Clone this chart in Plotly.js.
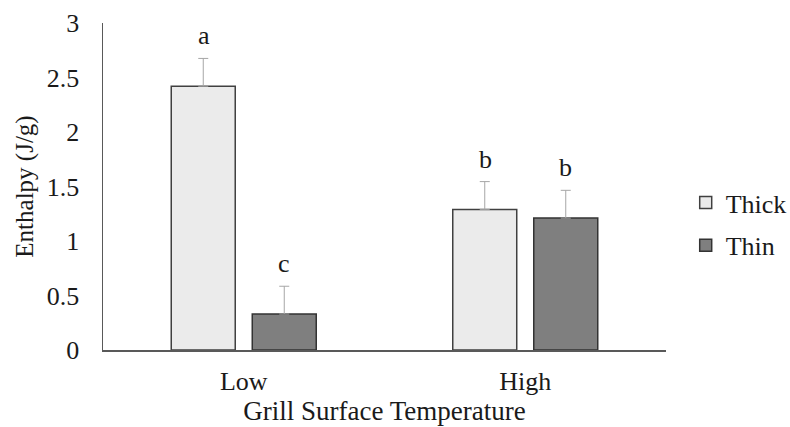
<!DOCTYPE html>
<html>
<head>
<meta charset="utf-8">
<script src="https://cdn.plot.ly/plotly-3.0.1.min.js"></script>
<style>html,body{margin:0;padding:0;background:#fff;}#chart{width:790px;height:427px;}</style>
</head>
<body>
<div id="chart"></div>
<script>
const categories = ["Low", "High"];
const seriesNames = ["Thick", "Thin"];
const thickValues = [2.42, 1.29];
const thinValues = [0.33, 1.21];
const thickErrors = [0.255, 0.255];
const thinErrors = [0.255, 0.255];
const thickLetters = ["a", "b"];
const thinLetters = ["c", "b"];

const FONT = "Liberation Serif";
const TXT = "#1a1a1a";

const traces = [
  {
    type: "bar", name: seriesNames[0], x: categories, y: thickValues,
    marker: {color: "#ebebeb", line: {color: "#404040", width: 1.5}},
    error_y: {type: "data", array: thickErrors, visible: true, color: "#a6a6a6", thickness: 1, width: 5, symmetric: false, arrayminus: [0, 0]},
    legendgroup: "g1"
  },
  {
    type: "bar", name: seriesNames[1], x: categories, y: thinValues,
    marker: {color: "#7f7f7f", line: {color: "#333333", width: 1.5}},
    error_y: {type: "data", array: thinErrors, visible: true, color: "#a6a6a6", thickness: 1, width: 5, symmetric: false, arrayminus: [0, 0]},
    legendgroup: "g2"
  }
];

const annotations = [];
categories.forEach((c, i) => {
  annotations.push({x: c, y: thickValues[i] + thickErrors[i], text: thickLetters[i], showarrow: false,
    xref: "x", yref: "y", xshift: -40, yanchor: "bottom", yshift: 6, font: {family: FONT, size: 26, color: TXT}});
  annotations.push({x: c, y: thinValues[i] + thinErrors[i], text: thinLetters[i], showarrow: false,
    xref: "x", yref: "y", xshift: 40, yanchor: "bottom", yshift: 6, font: {family: FONT, size: 26, color: TXT}});
});

const layout = {
  width: 790, height: 427,
  margin: {l: 103, r: 124, t: 23, b: 77, pad: 0, autoexpand: false},
  paper_bgcolor: "#ffffff", plot_bgcolor: "#ffffff",
  font: {family: FONT, size: 26, color: TXT},
  barmode: "group", bargap: 0.4245, bargroupgap: 0.21,
  showlegend: true,
  legend: {x: 1.035, y: 0.385, xanchor: "left", yanchor: "middle", font: {family: FONT, size: 26, color: TXT},
    traceorder: "grouped", tracegroupgap: 6, itemwidth: 30, bgcolor: "rgba(0,0,0,0)"},
  xaxis: {
    type: "category", showline: true, linecolor: "#595959", linewidth: 1.5, ticks: "", showgrid: false,
    zeroline: false, tickfont: {family: FONT, size: 26, color: TXT}, ticklabelstandoff: 7,
    title: {text: "Grill Surface Temperature", font: {family: FONT, size: 27, color: TXT}, standoff: 4}
  },
  yaxis: {
    range: [0, 3], dtick: 0.5, showline: true, linecolor: "#595959", linewidth: 1.5, ticks: "", showgrid: false,
    zeroline: false, tickfont: {family: FONT, size: 26, color: TXT}, ticklabelstandoff: 17,
    title: {text: "Enthalpy (J/g)", font: {family: FONT, size: 25, color: TXT}, standoff: 6}
  },
  annotations: annotations
};

Plotly.newPlot("chart", traces, layout, {displayModeBar: false, staticPlot: true});
</script>
</body>
</html>
